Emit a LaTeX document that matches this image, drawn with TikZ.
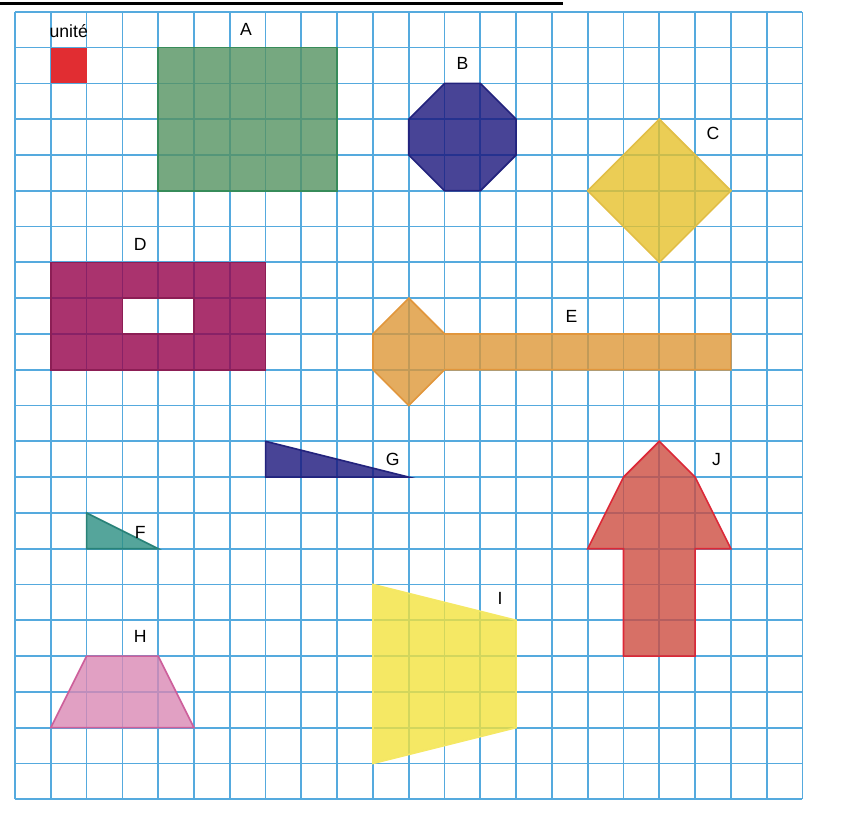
\documentclass[tikz,border=0pt]{standalone}
\usepackage{fontspec}
\setmainfont{Liberation Sans}
\usetikzlibrary{positioning}

\definecolor{gridblue}{RGB}{85,170,222}
\definecolor{unitred}{RGB}{225,45,50}
\definecolor{agreen}{RGB}{84,146,96}
\definecolor{agreenline}{RGB}{55,140,90}
\definecolor{bblue}{RGB}{26,21,124}
\definecolor{bblueline}{RGB}{35,35,125}
\definecolor{cyellow}{RGB}{230,193,43}
\definecolor{cyellowline}{RGB}{225,190,70}
\definecolor{dmagenta}{RGB}{149,0,74}
\definecolor{dmagentaline}{RGB}{140,30,85}
\definecolor{eorange}{RGB}{221,151,55}
\definecolor{eorangeline}{RGB}{225,150,60}
\definecolor{fteal}{RGB}{43,143,130}
\definecolor{ftealline}{RGB}{40,130,120}
\definecolor{hpink}{RGB}{217,136,180}
\definecolor{hpinkline}{RGB}{205,95,155}
\definecolor{iyellow}{RGB}{242,226,61}
\definecolor{iyellowline}{RGB}{245,232,100}
\definecolor{jred}{RGB}{205,76,64}
\definecolor{jredline}{RGB}{220,40,55}

\begin{document}
\begin{tikzpicture}[
    x=1cm, y=-1cm,
    gridline/.style = {
        draw=gridblue,
        line width=1.4pt
    },
    figure/.style = {
        line width=1.3pt,
        line join=miter,
        fill opacity=0.8
    },
    letter/.style = {
        font=\fontsize{14}{16}\selectfont,
        inner sep=0pt
    }
]

\useasboundingbox (-0.42,-0.33) rectangle (23.16,22.63);

% Black rule at the top of the page
\draw[line width=2.4pt] (-0.42,-0.24) -- (15.3,-0.24);

% Grid of squares
\draw[gridline] (0,0) grid (22,22);

% Shapes laid over the grid
\fill[unitred] (1,1) rectangle (2,2);
\draw[figure, draw=agreenline, fill=agreen] (4,1) rectangle (9,5);
\draw[figure, draw=bblueline, fill=bblue] (12,2) -- (13,2) -- (14,3) -- (14,4) -- (13,5) -- (12,5) -- (11,4) -- (11,3) -- cycle;
\draw[figure, draw=cyellowline, fill=cyellow] (18,3) -- (20,5) -- (18,7) -- (16,5) -- cycle;
\draw[figure, draw=dmagentaline, fill=dmagenta, even odd rule] (1,7) rectangle (7,10) (3,8) rectangle (5,9);
\draw[figure, draw=eorangeline, fill=eorange] (10,9) -- (11,8) -- (12,9) -- (20,9) -- (20,10) -- (12,10) -- (11,11) -- (10,10) -- cycle;
\draw[figure, draw=bblueline, fill=bblue] (7,12) -- (11,13) -- (7,13) -- cycle;
\draw[figure, draw=ftealline, fill=fteal] (2,14) -- (4,15) -- (2,15) -- cycle;
\draw[figure, draw=hpinkline, fill=hpink] (2,18) -- (4,18) -- (5,20) -- (1,20) -- cycle;
\draw[figure, draw=iyellowline, fill=iyellow] (10,16) -- (14,17) -- (14,20) -- (10,21) -- cycle;
\draw[figure, draw=jredline, fill=jred] (18,12) -- (19,13) -- (20,15) -- (19,15) -- (19,18) -- (17,18) -- (17,15) -- (16,15) -- (17,13) -- cycle;

% Labels
\node[letter] (unite) at (1.5,0.55) {unité};
\node[letter] (labA) at (6.45,0.5)  {A};
\node[letter] (labB) at (12.5,1.45) {B};
\node[letter] (labC) at (19.5,3.4)  {C};
\node[letter] (labD) at (3.5,6.5)   {D};
\node[letter] (labE) at (15.55,8.5) {E};
\node[letter] (labG) at (10.55,12.5) {G};
\node[letter] (labF) at (3.5,14.55) {F};
\node[letter] (labH) at (3.5,17.45) {H};
\node[letter] (labI) at (13.55,16.4) {I};
\node[letter] (labJ) at (19.6,12.5) {J};

\end{tikzpicture}
\end{document}
